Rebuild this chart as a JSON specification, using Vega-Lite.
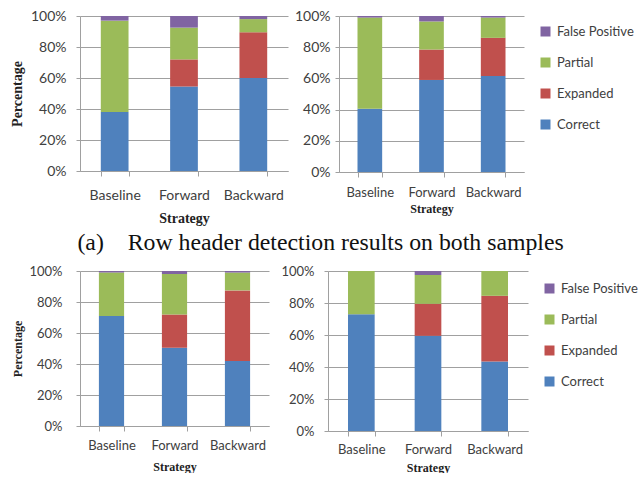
{
  "$schema": "https://vega.github.io/schema/vega-lite/v6.json",
  "padding": {"left": 10, "top": 9, "right": 0, "bottom": 0},
  "background": "white",
  "config": {
    "view": {"stroke": null},
    "font": "Lato",
    "axis": {
      "labelFont": "Lato", "labelFontSize": 13, "labelColor": "#404040",
      "titleFont": "Liberation Serif", "titleFontSize": 12, "titleFontWeight": "bold", "titleColor": "#222222",
      "domainColor": "#a0a0a0", "tickColor": "#a0a0a0", "gridColor": "#a0a0a0", "tickSize": 4
    },
    "legend": {
      "labelFont": "Lato", "labelFontSize": 13, "labelColor": "#404040", "labelOffset": 5,
      "symbolType": "square", "symbolSize": 100, "symbolStrokeWidth": 0, "rowPadding": 17, "title": null
    },
    "title": {"font": "Liberation Serif", "fontSize": 23.8, "fontWeight": "normal", "color": "#111111"}
  },
  "datasets": {
    "d": [
      {"panel": "TL", "strategy": "Baseline", "result": "Correct", "value": 38},
      {"panel": "TL", "strategy": "Baseline", "result": "Expanded", "value": 0},
      {"panel": "TL", "strategy": "Baseline", "result": "Partial", "value": 59},
      {"panel": "TL", "strategy": "Baseline", "result": "False Positive", "value": 3},
      {"panel": "TL", "strategy": "Forward", "result": "Correct", "value": 54.5},
      {"panel": "TL", "strategy": "Forward", "result": "Expanded", "value": 17.5},
      {"panel": "TL", "strategy": "Forward", "result": "Partial", "value": 20.5},
      {"panel": "TL", "strategy": "Forward", "result": "False Positive", "value": 7.5},
      {"panel": "TL", "strategy": "Backward", "result": "Correct", "value": 60},
      {"panel": "TL", "strategy": "Backward", "result": "Expanded", "value": 29.5},
      {"panel": "TL", "strategy": "Backward", "result": "Partial", "value": 8.5},
      {"panel": "TL", "strategy": "Backward", "result": "False Positive", "value": 2},
      {"panel": "TR", "strategy": "Baseline", "result": "Correct", "value": 40.5},
      {"panel": "TR", "strategy": "Baseline", "result": "Expanded", "value": 0},
      {"panel": "TR", "strategy": "Baseline", "result": "Partial", "value": 58.5},
      {"panel": "TR", "strategy": "Baseline", "result": "False Positive", "value": 1},
      {"panel": "TR", "strategy": "Forward", "result": "Correct", "value": 59},
      {"panel": "TR", "strategy": "Forward", "result": "Expanded", "value": 19.5},
      {"panel": "TR", "strategy": "Forward", "result": "Partial", "value": 18},
      {"panel": "TR", "strategy": "Forward", "result": "False Positive", "value": 3.5},
      {"panel": "TR", "strategy": "Backward", "result": "Correct", "value": 61.5},
      {"panel": "TR", "strategy": "Backward", "result": "Expanded", "value": 24.5},
      {"panel": "TR", "strategy": "Backward", "result": "Partial", "value": 13},
      {"panel": "TR", "strategy": "Backward", "result": "False Positive", "value": 1},
      {"panel": "BL", "strategy": "Baseline", "result": "Correct", "value": 71},
      {"panel": "BL", "strategy": "Baseline", "result": "Expanded", "value": 0},
      {"panel": "BL", "strategy": "Baseline", "result": "Partial", "value": 28},
      {"panel": "BL", "strategy": "Baseline", "result": "False Positive", "value": 1},
      {"panel": "BL", "strategy": "Forward", "result": "Correct", "value": 50.5},
      {"panel": "BL", "strategy": "Forward", "result": "Expanded", "value": 21.5},
      {"panel": "BL", "strategy": "Forward", "result": "Partial", "value": 26},
      {"panel": "BL", "strategy": "Forward", "result": "False Positive", "value": 2},
      {"panel": "BL", "strategy": "Backward", "result": "Correct", "value": 42},
      {"panel": "BL", "strategy": "Backward", "result": "Expanded", "value": 45.5},
      {"panel": "BL", "strategy": "Backward", "result": "Partial", "value": 11.5},
      {"panel": "BL", "strategy": "Backward", "result": "False Positive", "value": 1},
      {"panel": "BR", "strategy": "Baseline", "result": "Correct", "value": 73},
      {"panel": "BR", "strategy": "Baseline", "result": "Expanded", "value": 0},
      {"panel": "BR", "strategy": "Baseline", "result": "Partial", "value": 27},
      {"panel": "BR", "strategy": "Baseline", "result": "False Positive", "value": 0},
      {"panel": "BR", "strategy": "Forward", "result": "Correct", "value": 59.5},
      {"panel": "BR", "strategy": "Forward", "result": "Expanded", "value": 20},
      {"panel": "BR", "strategy": "Forward", "result": "Partial", "value": 18},
      {"panel": "BR", "strategy": "Forward", "result": "False Positive", "value": 2.5},
      {"panel": "BR", "strategy": "Backward", "result": "Correct", "value": 43.5},
      {"panel": "BR", "strategy": "Backward", "result": "Expanded", "value": 41},
      {"panel": "BR", "strategy": "Backward", "result": "Partial", "value": 15.5},
      {"panel": "BR", "strategy": "Backward", "result": "False Positive", "value": 0}
    ]
  },
  "resolve": {"scale": {"color": "independent"}},
  "spacing": 10,
  "vconcat": [
    {
      "title": {"text": "(a)\u00a0\u00a0\u00a0\u00a0Row header detection results on both samples", "orient": "bottom", "anchor": "start", "offset": 6, "dx": 67},
      "resolve": {"scale": {"color": "independent"}},
      "spacing": 6,
      "hconcat": [
        {
          "width": 208, "height": 155,
          "data": {"name": "d"},
          "transform": [
            {"filter": "datum.panel === 'TL'"},
            {"calculate": "indexof(['Correct','Expanded','Partial','False Positive'], datum.result)", "as": "ord"}
          ],
          "mark": {"type": "bar"},
          "encoding": {
            "x": {"field": "strategy", "type": "nominal", "sort": ["Baseline", "Forward", "Backward"],
                  "scale": {"paddingInner": 0.6, "paddingOuter": 0.3},
                  "axis": {"title": "Strategy", "labelAngle": 0, "tickBand": "extent", "tickSize": 5, "labelFontSize": 14, "titleFontSize": 14, "labelPadding": 12, "titlePadding": 9}},
            "y": {"field": "value", "type": "quantitative", "stack": "zero", "scale": {"domain": [0, 100], "nice": false},
                  "axis": {"title": "Percentage", "values": [0, 20, 40, 60, 80, 100], "labelExpr": "datum.value + '%'", "labelFontSize": 14, "titleFontSize": 14, "labelPadding": 10, "titlePadding": 6}},
            "color": {"field": "result", "type": "nominal",
                      "scale": {"domain": ["False Positive", "Partial", "Expanded", "Correct"], "range": ["#8064A2", "#9BBB59", "#C0504D", "#4F81BD"]},
                      "legend": null},
            "order": {"field": "ord", "type": "quantitative"}
          }
        },
        {
          "width": 185, "height": 156,
          "data": {"name": "d"},
          "transform": [
            {"filter": "datum.panel === 'TR'"},
            {"calculate": "indexof(['Correct','Expanded','Partial','False Positive'], datum.result)", "as": "ord"}
          ],
          "mark": {"type": "bar"},
          "encoding": {
            "x": {"field": "strategy", "type": "nominal", "sort": ["Baseline", "Forward", "Backward"],
                  "scale": {"paddingInner": 0.6, "paddingOuter": 0.3},
                  "axis": {"title": "Strategy", "labelAngle": 0, "tickBand": "extent", "tickSize": 5, "labelPadding": 9, "titlePadding": 4}},
            "y": {"field": "value", "type": "quantitative", "stack": "zero", "scale": {"domain": [0, 100], "nice": false},
                  "axis": {"title": null, "values": [0, 20, 40, 60, 80, 100], "labelExpr": "datum.value + '%'", "labelFontSize": 14, "labelPadding": 5}},
            "color": {"field": "result", "type": "nominal",
                      "scale": {"domain": ["False Positive", "Partial", "Expanded", "Correct"], "range": ["#8064A2", "#9BBB59", "#C0504D", "#4F81BD"]},
                      "legend": {"orient": "right", "offset": 6, "padding": 9}},
            "order": {"field": "ord", "type": "quantitative"}
          }
        }
      ]
    },
    {
      "resolve": {"scale": {"color": "independent"}},
      "spacing": 11,
      "hconcat": [
        {
          "width": 189, "height": 155,
          "data": {"name": "d"},
          "transform": [
            {"filter": "datum.panel === 'BL'"},
            {"calculate": "indexof(['Correct','Expanded','Partial','False Positive'], datum.result)", "as": "ord"}
          ],
          "mark": {"type": "bar"},
          "encoding": {
            "x": {"field": "strategy", "type": "nominal", "sort": ["Baseline", "Forward", "Backward"],
                  "scale": {"paddingInner": 0.6, "paddingOuter": 0.3},
                  "axis": {"title": "Strategy", "labelAngle": 0, "tickBand": "extent", "tickSize": 5, "labelPadding": 8, "titlePadding": 9}},
            "y": {"field": "value", "type": "quantitative", "stack": "zero", "scale": {"domain": [0, 100], "nice": false},
                  "axis": {"title": "Percentage", "values": [0, 20, 40, 60, 80, 100], "labelExpr": "datum.value + '%'", "labelPadding": 14, "titlePadding": 4}},
            "color": {"field": "result", "type": "nominal",
                      "scale": {"domain": ["False Positive", "Partial", "Expanded", "Correct"], "range": ["#8064A2", "#9BBB59", "#C0504D", "#4F81BD"]},
                      "legend": null},
            "order": {"field": "ord", "type": "quantitative"}
          }
        },
        {
          "width": 200, "height": 160,
          "data": {"name": "d"},
          "transform": [
            {"filter": "datum.panel === 'BR'"},
            {"calculate": "indexof(['Correct','Expanded','Partial','False Positive'], datum.result)", "as": "ord"}
          ],
          "mark": {"type": "bar"},
          "encoding": {
            "x": {"field": "strategy", "type": "nominal", "sort": ["Baseline", "Forward", "Backward"],
                  "scale": {"paddingInner": 0.6, "paddingOuter": 0.3},
                  "axis": {"title": "Strategy", "labelAngle": 0, "tickBand": "extent", "tickSize": 5, "labelPadding": 7, "titlePadding": 6}},
            "y": {"field": "value", "type": "quantitative", "stack": "zero", "scale": {"domain": [0, 100], "nice": false},
                  "axis": {"title": null, "values": [0, 20, 40, 60, 80, 100], "labelExpr": "datum.value + '%'", "labelPadding": 10}},
            "color": {"field": "result", "type": "nominal",
                      "scale": {"domain": ["False Positive", "Partial", "Expanded", "Correct"], "range": ["#8064A2", "#9BBB59", "#C0504D", "#4F81BD"]},
                      "legend": {"orient": "right", "offset": 4, "padding": 11}},
            "order": {"field": "ord", "type": "quantitative"}
          }
        }
      ]
    }
  ]
}
